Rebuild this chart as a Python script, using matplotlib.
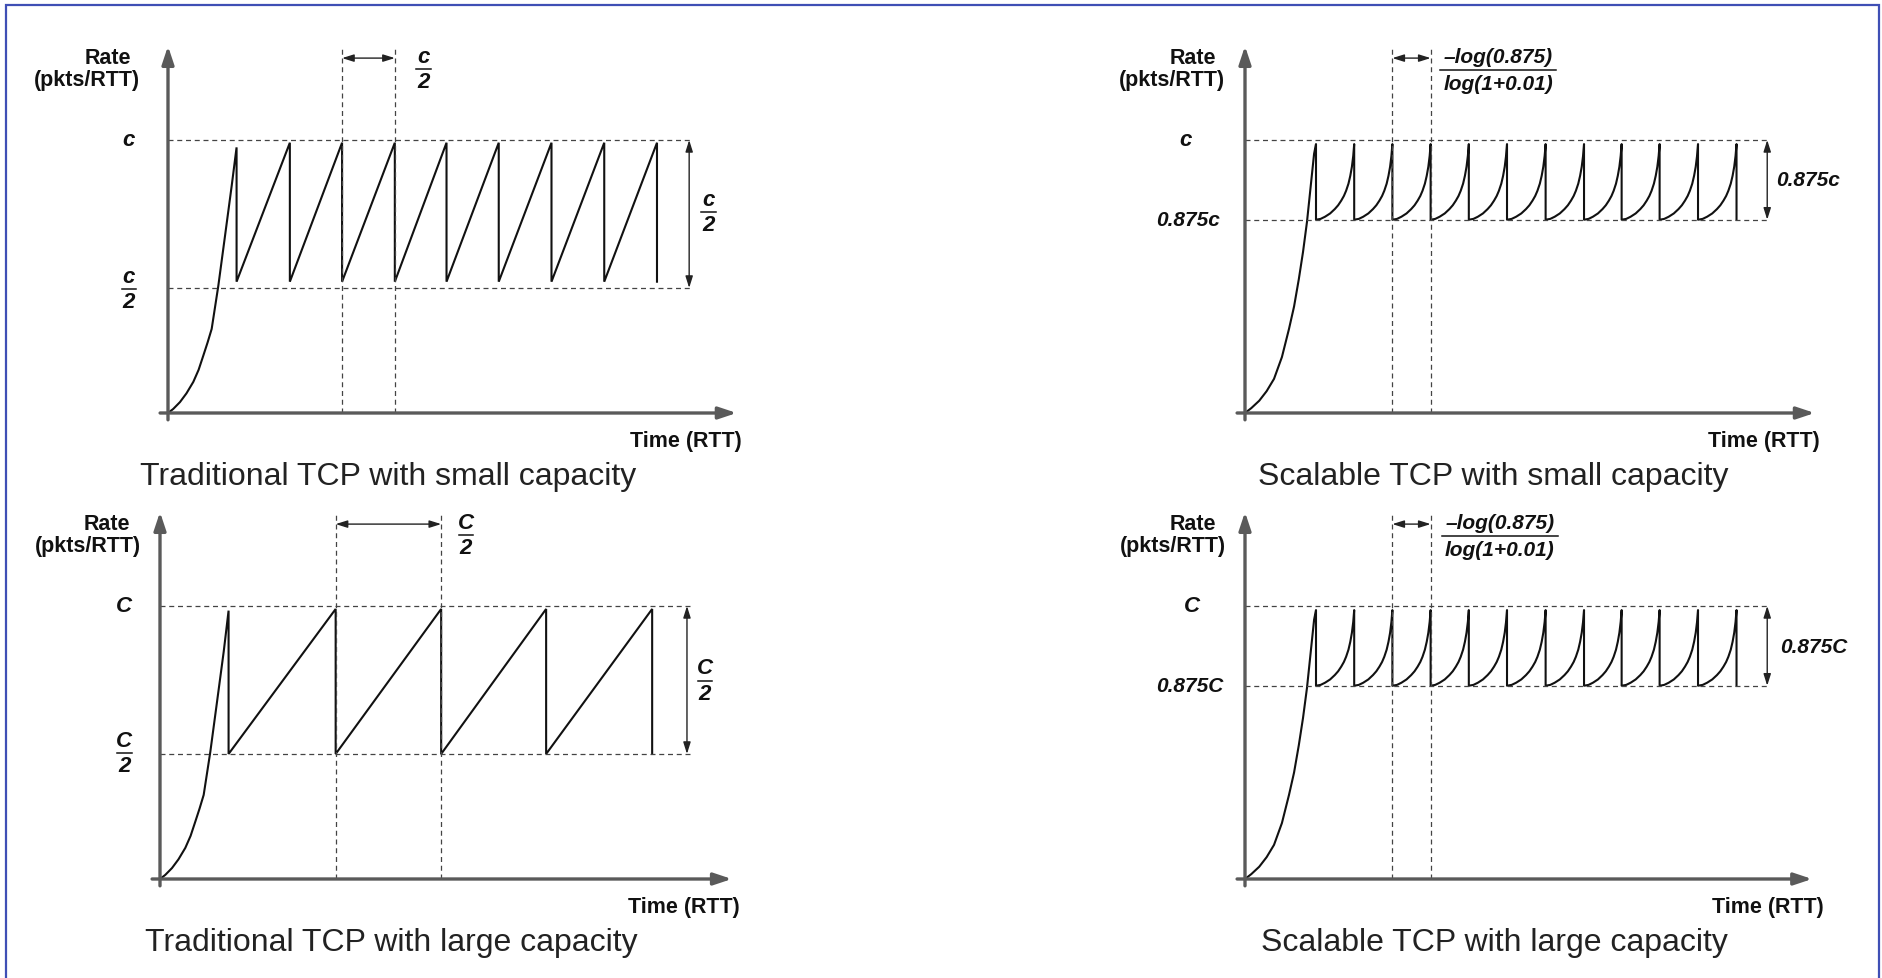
import matplotlib
matplotlib.use("Agg")
import matplotlib.pyplot as plt
from matplotlib.patches import Rectangle

W, H = 1883, 979
SX, SY = 52.75, 273.0   # pixels per time unit / per rate unit (c = 1)

# ---- data (time in RTT units of the sketch, rate as fraction of c) ----
# traditional TCP, small capacity
ts_start_t = [0.0, 0.10, 0.227, 0.35, 0.48, 0.58, 0.669, 0.75, 0.828, 0.954, 1.081, 1.208, 1.30]
ts_start_r = [0.0, 0.015, 0.040, 0.072, 0.114, 0.158, 0.210, 0.258, 0.308, 0.466, 0.649, 0.833, 0.973]
ts_peak_t = [1.30, 2.31, 3.30, 4.30, 5.28, 6.27, 7.27, 8.27, 9.27]
ts_peak_r = [0.973, 0.99, 0.99, 0.99, 0.99, 0.99, 0.99, 0.99, 0.99]
ts_low_r = 0.481

# traditional TCP, large capacity
tl_start_t = [0.0, 0.10, 0.227, 0.35, 0.48, 0.58, 0.669, 0.75, 0.828, 0.954, 1.081, 1.208, 1.30]
tl_start_r = [0.0, 0.015, 0.040, 0.072, 0.114, 0.158, 0.210, 0.258, 0.308, 0.466, 0.649, 0.833, 0.983]
tl_peak_t = [1.30, 3.33, 5.33, 7.32, 9.33]
tl_peak_r = [0.983, 0.989, 0.989, 0.989, 0.989]
tl_low_r = 0.458

# scalable TCP (same drawing for small and large capacity)
sc_start_t = [0.0, 0.12, 0.27, 0.41, 0.55, 0.70, 0.834, 0.93, 1.02, 1.10, 1.175, 1.25, 1.31, 1.346]
sc_start_r = [0.0, 0.018, 0.045, 0.08, 0.125, 0.205, 0.308, 0.39, 0.49, 0.59, 0.70, 0.84, 0.95, 0.985]
sc_peak_t = [1.346, 2.070, 2.794, 3.519, 4.243, 4.967, 5.699, 6.427, 7.140, 7.860, 8.588, 9.318]
sc_tooth_u = [0.0, 0.12, 0.237, 0.37, 0.492, 0.58, 0.661, 0.73, 0.788, 0.85, 0.898, 0.94, 0.975, 1.0]
sc_tooth_r = [0.708, 0.711, 0.719, 0.731, 0.747, 0.761, 0.778, 0.795, 0.814, 0.840, 0.869, 0.902, 0.942, 0.985]
sc_low_r = 0.708

trad_levels = [1.0, 0.458]
scal_levels = [1.0, 0.708]

AXC = "#5a5a5a"
DASHC = "#444444"
LINEC = "#111111"
BOLD = dict(family="Liberation Sans", fontweight="bold")
BI = dict(family="Liberation Sans", fontweight="bold", fontstyle="italic")


def sawtooth(start_t, start_r, peak_t, peak_r, low_r):
    t, r = list(start_t), list(start_r)
    for i in range(len(peak_t)):
        t.append(peak_t[i])
        r.append(low_r)
        if i + 1 < len(peak_t):
            t.append(peak_t[i + 1])
            r.append(peak_r[i + 1])
    return t, r


def scalable(start_t, start_r, peak_t, low_r, tooth_u, tooth_r):
    t, r = list(start_t), list(start_r)
    for i in range(len(peak_t)):
        t.append(peak_t[i])
        r.append(low_r)
        if i + 1 < len(peak_t):
            span = peak_t[i + 1] - peak_t[i]
            for u, v in zip(tooth_u, tooth_r):
                t.append(peak_t[i] + u * span)
                r.append(v)
    return t, r


def panel(fig, x0, y0, x1, y1, ox, oy):
    ax = fig.add_axes([x0 / W, 1 - y1 / H, (x1 - x0) / W, (y1 - y0) / H])
    ax.set_xlim((x0 - ox) / SX, (x1 - ox) / SX)
    ax.set_ylim((oy - y1) / SY, (oy - y0) / SY)
    ax.axis("off")
    return ax


def frac(ax, x, y, num, den, fs, barw, dy=0.046):
    ax.text(x, y + dy, num, ha="center", va="center", fontsize=fs, color="#111", **BI)
    ax.text(x, y - dy, den, ha="center", va="center", fontsize=fs, color="#111", **BI)
    ax.plot([x - barw / 2, x + barw / 2], [y, y], color="#111", lw=1.1, clip_on=False)


def axes_arrows(ax, xtip):
    ytip = 1.344
    ap = dict(arrowstyle="-|>,head_length=0.9,head_width=0.3", color=AXC, lw=2.4,
              shrinkA=0, shrinkB=0, mutation_scale=12)
    ax.annotate("", xy=(xtip, 0), xytext=(-0.15, 0), arrowprops=ap)
    ax.annotate("", xy=(0, ytip), xytext=(0, -0.025), arrowprops=ap)


def guides(ax, levels, dash_end, marks, da_x):
    for lv in levels:
        ax.plot([0, dash_end], [lv, lv], color=DASHC, lw=0.9, ls=(0, (4, 3)))
    for m in marks:
        ax.plot([m, m], [0, 1.344], color=DASHC, lw=0.9, ls=(0, (4, 3)))
    dap = dict(arrowstyle="<|-|>,head_length=0.7,head_width=0.22", color="#222", lw=1.0,
               shrinkA=0, shrinkB=0, mutation_scale=10)
    ax.annotate("", xy=(marks[1], 1.30), xytext=(marks[0], 1.30), arrowprops=dap)
    ax.annotate("", xy=(da_x, levels[0]), xytext=(da_x, levels[1]), arrowprops=dap)


def common_text(ax, rate_x, pk_x, time_x, cap_x, caption):
    ax.text(rate_x, 1.304, "Rate", ha="right", va="center", fontsize=15.5, color="#111", **BOLD)
    ax.text(pk_x, 1.223, "(pkts/RTT)", ha="right", va="center", fontsize=15.5, color="#111", **BOLD)
    ax.text(time_x, -0.10, "Time (RTT)", ha="right", va="center", fontsize=15.5, color="#111", **BOLD)
    ax.text(cap_x, -0.231, caption, ha="center", va="center", fontsize=23, color="#222",
            family="Liberation Sans")


fig = plt.figure(figsize=(W / 100, H / 100), dpi=100)
fig.patch.set_facecolor("white")
fig.patches.append(Rectangle((6 / W, -0.02), (1879 - 6) / W, 1.02 - 6 / H, transform=fig.transFigure,
                             fill=False, edgecolor="#3f4fb5", lw=1.6))

# --- traditional, small capacity ---
ax = panel(fig, 0, 0, 941, 490, 168, 414)
t, r = sawtooth(ts_start_t, ts_start_r, ts_peak_t, ts_peak_r, ts_low_r)
ax.plot(t, r, color=LINEC, lw=1.5, solid_joinstyle="miter")
guides(ax, trad_levels, 9.95, [ts_peak_t[2], ts_peak_t[3]], 9.88)
axes_arrows(ax, 10.78)
ax.text(-0.74, 1.0, "c", ha="center", va="center", fontsize=16, color="#111", **BI)
frac(ax, -0.74, 0.454, "c", "2", 16, 0.28)
frac(ax, 4.85, 1.26, "c", "2", 16, 0.28)
frac(ax, 10.24, 0.735, "c", "2", 16, 0.28)
common_text(ax, -0.70, -0.53, 10.88, 4.17, "Traditional TCP with small capacity")

# --- scalable, small capacity ---
ax = panel(fig, 941, 0, 1883, 490, 1245, 414)
t, r = scalable(sc_start_t, sc_start_r, sc_peak_t, sc_low_r, sc_tooth_u, sc_tooth_r)
ax.plot(t, r, color=LINEC, lw=1.5)
guides(ax, scal_levels, 9.95, [sc_peak_t[2], sc_peak_t[3]], 9.90)
axes_arrows(ax, 10.8)
ax.text(-1.12, 1.0, "c", ha="center", va="center", fontsize=16, color="#111", **BI)
ax.text(-0.47, 0.708, "0.875c", ha="right", va="center", fontsize=15, color="#111", **BI)
ax.text(10.07, 0.857, "0.875c", ha="left", va="center", fontsize=15, color="#111", **BI)
frac(ax, 4.8, 1.257, "\u2013log(0.875)", "log(1+0.01)", 15, 2.2, dy=0.05)
common_text(ax, -0.55, -0.38, 10.9, 4.7, "Scalable TCP with small capacity")

# --- traditional, large capacity ---
ax = panel(fig, 0, 490, 941, 979, 160, 880)
t, r = sawtooth(tl_start_t, tl_start_r, tl_peak_t, tl_peak_r, tl_low_r)
ax.plot(t, r, color=LINEC, lw=1.5, solid_joinstyle="miter")
guides(ax, trad_levels, 10.05, [tl_peak_t[1], tl_peak_t[2]], 9.99)
axes_arrows(ax, 10.84)
ax.text(-0.68, 1.0, "C", ha="center", va="center", fontsize=16, color="#111", **BI)
frac(ax, -0.68, 0.462, "C", "2", 16, 0.28)
frac(ax, 5.8, 1.26, "C", "2", 16, 0.28)
frac(ax, 10.33, 0.727, "C", "2", 16, 0.28)
common_text(ax, -0.57, -0.36, 11.0, 4.38, "Traditional TCP with large capacity")

# --- scalable, large capacity ---
ax = panel(fig, 941, 490, 1883, 979, 1245, 880)
t, r = scalable(sc_start_t, sc_start_r, sc_peak_t, sc_low_r, sc_tooth_u, sc_tooth_r)
ax.plot(t, r, color=LINEC, lw=1.5)
guides(ax, scal_levels, 9.95, [sc_peak_t[2], sc_peak_t[3]], 9.90)
axes_arrows(ax, 10.75)
ax.text(-1.0, 1.0, "C", ha="center", va="center", fontsize=16, color="#111", **BI)
ax.text(-0.4, 0.708, "0.875C", ha="right", va="center", fontsize=15, color="#111", **BI)
ax.text(10.14, 0.853, "0.875C", ha="left", va="center", fontsize=15, color="#111", **BI)
frac(ax, 4.83, 1.256, "\u2013log(0.875)", "log(1+0.01)", 15, 2.2, dy=0.05)
common_text(ax, -0.55, -0.36, 10.98, 4.72, "Scalable TCP with large capacity")

fig.savefig("out.png", dpi=100)
